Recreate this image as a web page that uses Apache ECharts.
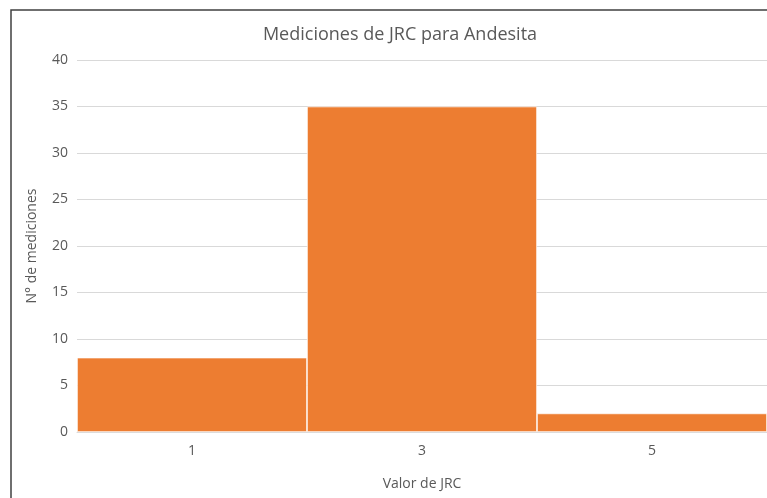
<!DOCTYPE html>
<html>
<head>
<meta charset="utf-8">
<script src="https://cdn.jsdelivr.net/npm/echarts@6/dist/echarts.min.js"></script>
<style>
  html, body { margin: 0; padding: 0; background: #fff; }
  #chart { width: 767px; height: 498px; }
</style>
</head>
<body>
<div id="chart"></div>
<script>
const categories = ['1', '3', '5'];
const counts = [8, 35, 2];
const yTicks = { min: 0, max: 40, interval: 5 };

const font = '"Open Sans", "Noto Sans", sans-serif';
const textColor = '#595959';

const myChart = echarts.init(document.getElementById('chart'));

myChart.setOption({
  animation: false,
  title: {
    text: 'Mediciones de JRC para Andesita',
    left: 395,
    top: 21,
    textAlign: 'center',
    textStyle: { fontFamily: font, fontSize: 18, fontWeight: 'normal', color: textColor }
  },
  // Excel-style chart border, cut off at right and bottom
  graphic: [{
    type: 'rect',
    shape: { x: 11, y: 10, width: 820, height: 560 },
    style: { fill: 'none', stroke: '#404040', lineWidth: 1.5 },
    silent: true
  }],
  grid: { left: 77, top: 60, right: 0, bottom: 66 },
  xAxis: {
    type: 'category',
    data: categories,
    name: 'Valor de JRC',
    nameLocation: 'middle',
    nameGap: 45,
    nameTextStyle: { fontFamily: font, fontSize: 14, color: textColor },
    axisLine: { show: true, lineStyle: { color: '#d9d9d9' } },
    axisTick: { show: false },
    axisLabel: { fontFamily: font, fontSize: 14, color: textColor, margin: 12 }
  },
  yAxis: {
    type: 'value',
    min: yTicks.min,
    max: yTicks.max,
    interval: yTicks.interval,
    name: 'N° de mediciones',
    nameLocation: 'middle',
    nameGap: 38,
    nameRotate: 90,
    nameTextStyle: { fontFamily: font, fontSize: 14, color: textColor },
    axisLine: { show: false },
    axisTick: { show: false },
    axisLabel: { fontFamily: font, fontSize: 14, color: textColor, margin: 9 },
    splitLine: { show: true, lineStyle: { color: '#d9d9d9' } }
  },
  series: [{
    type: 'bar',
    data: counts,
    barWidth: '100%',
    barCategoryGap: 0,
    itemStyle: { color: '#ed7d31', borderColor: '#ffffff', borderWidth: 0.7 }
  }]
});
</script>
</body>
</html>
